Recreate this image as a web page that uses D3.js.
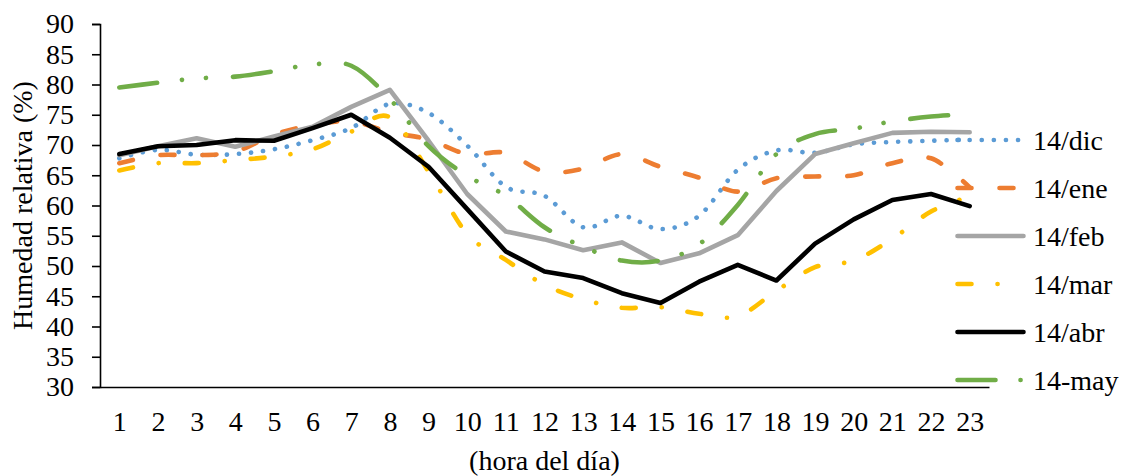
<!DOCTYPE html>
<html>
<head>
<meta charset="utf-8">
<script src="https://cdn.jsdelivr.net/npm/d3@7"></script>
<style>
  html, body { margin: 0; padding: 0; background: #fff; }
  svg { display: block; }
  text { font-family: "Liberation Serif", "Times New Roman", serif; fill: #000; }
</style>
</head>
<body>
<svg id="chart" width="1123" height="476"></svg>
<script>
// Hour of day (x categories)
const hours = d3.range(1, 24);

// Relative humidity (%) per hour, one array per sampling date
const dic = [67.8, 69.2, 68.4, 68.5, 69.3, 70.8, 72.8, 76.8, 75.3, 69.9, 63.1, 61.6, 56.4, 58.3, 56.1, 58.3, 65.9, 69.1, 68.7, 70.1, 70.5, 70.7, 70.9];
const ene = [67.0, 68.3, 68.3, 68.9, 71.7, 73.3, 73.9, 72.1, 70.9, 68.5, 68.7, 65.6, 66.1, 68.5, 66.4, 64.6, 62.3, 64.5, 64.8, 65.0, 67.0, 67.8, 63.0];
const feb = [68.3, 69.8, 71.1, 69.7, 71.4, 73.0, 76.3, 79.1, 70.7, 61.9, 55.7, 54.4, 52.6, 53.9, 50.5, 52.1, 55.1, 62.4, 68.5, 70.3, 72.0, 72.2, 72.1];
const mar = [65.8, 67.0, 67.0, 67.5, 68.1, 69.3, 72.2, 74.6, 65.6, 55.3, 51.0, 46.9, 44.5, 43.1, 43.2, 42.1, 41.7, 45.9, 49.8, 50.9, 54.5, 59.0, 61.5];
const abr = [68.5, 69.8, 70.0, 70.8, 70.7, 72.8, 75.0, 71.2, 66.4, 59.4, 52.4, 49.1, 48.0, 45.5, 43.9, 47.4, 50.2, 47.6, 53.7, 57.7, 60.9, 61.9, 59.9];
const may = [79.5, 80.3, 81.0, 81.3, 82.2, 83.3, 83.1, 77.6, 69.8, 64.9, 61.6, 56.4, 53.2, 50.9, 50.9, 53.6, 60.1, 68.5, 71.8, 72.7, 73.9, 74.7, 75.1];

// Y axis ticks
const yTicks = d3.range(30, 91, 5);

// Series styling
const series = [
  { name: "14/dic", values: dic, color: "#5B9BD5", dash: "0.1,12", smooth: true },
  { name: "14/ene", values: ene, color: "#ED7D31", dash: "14,28", smooth: true },
  { name: "14/feb", values: feb, color: "#A5A5A5", dash: null, smooth: false },
  { name: "14/mar", values: mar, color: "#FFC000", dash: "14,26,0.1,26", smooth: true },
  { name: "14/abr", values: abr, color: "#000000", dash: null, smooth: false },
  { name: "14-may", values: may, color: "#70AD47", dash: "38,25,0.1,24,0.1,27", smooth: true }
];

const svg = d3.select("#chart");
const plotLeft = 100, plotRight = 989, plotTop = 24, plotBottom = 387;

const x = d3.scalePoint().domain(hours).range([plotLeft, plotRight]).padding(0.5);
const y = d3.scaleLinear().domain([30, 90]).range([plotBottom, plotTop]);

const FONT = 28;
const FAMILY = '"Liberation Serif", "Times New Roman", serif';

// Y axis
const yAxis = svg.append("g")
  .attr("transform", `translate(${plotLeft},0)`)
  .call(d3.axisLeft(y).tickValues(yTicks).tickSize(8).tickPadding(18).tickFormat(d3.format("d")));
yAxis.select(".domain").attr("stroke", "#000").attr("stroke-width", 1.6);
yAxis.selectAll(".tick line").attr("stroke", "#000").attr("stroke-width", 1.6);
yAxis.selectAll(".tick text")
  .attr("font-size", FONT)
  .style("font-family", FAMILY)
  .attr("fill", "#000");

// X axis (no tick marks)
const xAxis = svg.append("g")
  .attr("transform", `translate(0,${plotBottom})`)
  .call(d3.axisBottom(x).tickSize(0).tickPadding(24));
xAxis.select(".domain").attr("stroke", "#000").attr("stroke-width", 1.6);
xAxis.selectAll(".tick text")
  .attr("font-size", FONT)
  .style("font-family", FAMILY)
  .attr("fill", "#000");

// Axis titles
svg.append("text")
  .attr("x", (plotLeft + plotRight) / 2)
  .attr("y", 470)
  .attr("text-anchor", "middle")
  .attr("font-size", FONT)
  .text("(hora del día)");

svg.append("text")
  .attr("transform", `translate(32,${(plotTop + plotBottom) / 2}) rotate(-90)`)
  .attr("text-anchor", "middle")
  .attr("font-size", FONT)
  .text("Humedad relativa (%)");

// Lines
const plot = svg.append("g");
series.forEach(s => {
  const line = d3.line()
    .x((d, i) => x(hours[i]))
    .y(d => y(d))
    .curve(s.smooth ? d3.curveCardinal.tension(0) : d3.curveLinear);
  plot.append("path")
    .datum(s.values)
    .attr("d", line)
    .attr("fill", "none")
    .attr("stroke", s.color)
    .attr("stroke-width", 4.6)
    .attr("stroke-linecap", "round")
    .attr("stroke-linejoin", "round")
    .attr("stroke-dasharray", s.dash);
});

// Legend
const legend = svg.append("g");
series.forEach((s, i) => {
  const ly = 140 + i * 48;
  legend.append("line")
    .attr("x1", 957.5).attr("x2", 1023.5)
    .attr("y1", ly).attr("y2", ly)
    .attr("stroke", s.color)
    .attr("stroke-width", 4.6)
    .attr("stroke-linecap", "round")
    .attr("stroke-dasharray", s.dash);
  legend.append("text")
    .attr("x", 1033)
    .attr("y", ly + 9.5)
    .attr("font-size", FONT)
    .text(s.name);
});
</script>
</body>
</html>
